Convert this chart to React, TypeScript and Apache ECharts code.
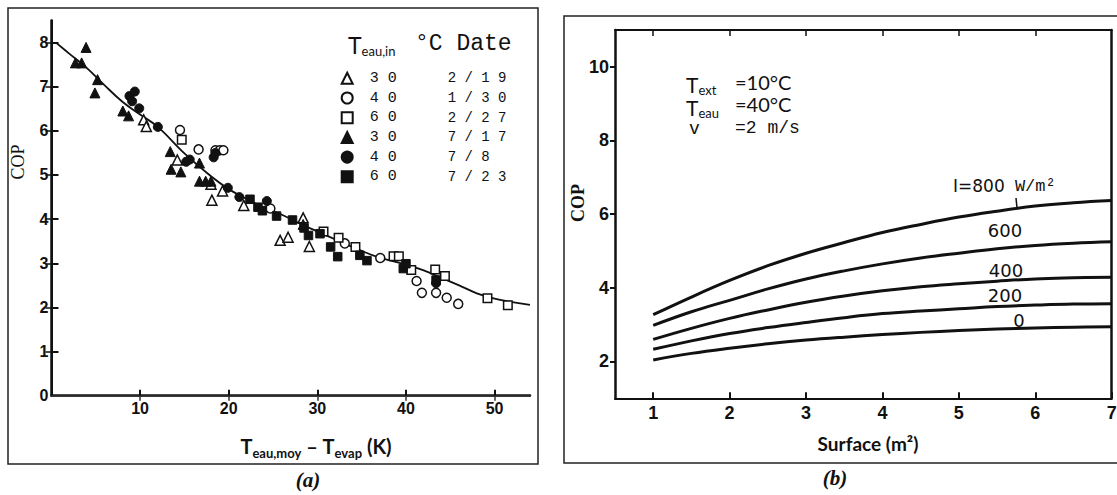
import React, { useEffect, useRef } from 'react';
import * as echarts from 'echarts';

// ---------- Panel (a) data ----------
const legendTemps = ['30', '40', '60', '30', '40', '60'];
const legendDates = ['2/19', '1/30', '2/27', '7/17', '7/8', '7/23'];
const legendSymbols = ['triangle', 'circle', 'rect', 'triangle', 'circle', 'rect'];
const legendFilled = [false, false, false, true, true, true];

const openTri30 = [[10.4, 6.25], [10.7, 6.1], [14.2, 5.34], [18.0, 4.79], [18.1, 4.43], [19.3, 4.64], [21.7, 4.31], [25.8, 3.52], [26.7, 3.59], [28.4, 4.03], [29.1, 3.38]];
const openCircle40 = [[14.5, 6.02], [16.6, 5.58], [18.5, 5.56], [19.0, 5.56], [19.4, 5.56], [24.7, 4.24], [33.1, 3.45], [37.1, 3.12], [41.2, 2.6], [41.8, 2.33], [43.4, 2.33], [44.6, 2.22], [45.9, 2.08]];
const openSquare60 = [[14.7, 5.8], [30.7, 3.72], [32.4, 3.58], [34.3, 3.37], [38.6, 3.16], [39.2, 3.16], [40.6, 2.85], [43.3, 2.86], [44.4, 2.71], [49.2, 2.21], [51.5, 2.05]];
const filledTri30 = [[2.7, 7.54], [3.4, 7.54], [3.9, 7.89], [5.2, 7.16], [4.9, 6.86], [8.05, 6.45], [8.7, 6.34], [13.4, 5.53], [13.5, 5.13], [14.6, 5.07], [16.7, 5.27], [16.7, 4.86], [17.4, 4.86], [18.0, 4.86], [28.4, 3.88]];
const filledCircle40 = [[8.8, 6.79], [9.4, 6.89], [9.1, 6.67], [9.9, 6.51], [12.0, 6.09], [15.2, 5.3], [15.6, 5.35], [18.3, 5.4], [18.5, 5.5], [19.9, 4.71], [21.2, 4.5], [24.3, 4.41], [43.4, 2.55]];
const filledSquare60 = [[22.4, 4.45], [23.3, 4.27], [23.8, 4.19], [25.4, 4.07], [27.2, 3.98], [28.5, 3.8], [29.0, 3.63], [30.3, 3.67], [31.5, 3.37], [32.3, 3.15], [34.8, 3.18], [35.6, 3.06], [39.7, 2.88], [40.0, 2.99], [43.4, 2.62]];
const scatterSets = [openTri30, openCircle40, openSquare60, filledTri30, filledCircle40, filledSquare60];

const fitX = [0.5, 2, 4, 6, 8, 10, 12, 15, 18, 20, 22, 24, 26, 28, 30, 32.5, 35, 37, 40, 42, 44, 46, 48, 50, 52, 54];
const fitY = [8.0, 7.75, 7.42, 7.03, 6.66, 6.37, 6.09, 5.49, 4.97, 4.68, 4.46, 4.26, 4.1, 3.9, 3.72, 3.5, 3.28, 3.13, 2.97, 2.84, 2.67, 2.5, 2.32, 2.2, 2.12, 2.06];

const aXTicks = [10, 20, 30, 40, 50];
const aYLabels = [0, 1, 2, 3, 4, 5, 6, 7, 8];
const aYTicks = [1, 2, 3, 4, 5, 6, 7, 8];

// ---------- Panel (b) data ----------
const surface = [1, 1.5, 2, 2.5, 3, 3.5, 4, 4.5, 5, 5.5, 6, 6.5, 7];
const irradiance = [800, 600, 400, 200, 0];
const cop800 = [3.27, 3.75, 4.2, 4.6, 4.94, 5.23, 5.5, 5.72, 5.92, 6.08, 6.22, 6.31, 6.37];
const cop600 = [2.98, 3.35, 3.66, 3.97, 4.24, 4.46, 4.65, 4.81, 4.94, 5.06, 5.15, 5.21, 5.25];
const cop400 = [2.6, 2.9, 3.17, 3.4, 3.61, 3.78, 3.92, 4.03, 4.11, 4.18, 4.24, 4.27, 4.29];
const cop200 = [2.33, 2.56, 2.76, 2.92, 3.06, 3.19, 3.3, 3.37, 3.43, 3.49, 3.53, 3.56, 3.57];
const cop0 = [2.04, 2.22, 2.36, 2.48, 2.58, 2.66, 2.73, 2.79, 2.84, 2.88, 2.91, 2.93, 2.94];
const copSets = [cop800, cop600, cop400, cop200, cop0];
const bXTicks = [1, 2, 3, 4, 5, 6, 7];
const bXTopTicks = [1, 2, 3, 4, 5, 6];
const bYTicks = [2, 4, 6, 8, 10];

const INK = '#111';
const spaced = (s: string) => s.split('').join(' ');
const seriesNames = legendTemps.map((t, i) => `${t} °C ${legendDates[i]}`);

const tickFont = { color: INK, fontFamily: 'Liberation Sans', fontWeight: 'bold' as const };

const subStyle = (big: number, small: number) => ({
  T: { fontFamily: 'Lato', fontSize: big, lineHeight: big, verticalAlign: 'top', fill: INK },
  s: { fontFamily: 'Lato', fontSize: small, lineHeight: small, padding: [Math.round(big * 0.5), 0, 0, 0], fill: INK },
});

export default function App() {
  const ref = useRef<HTMLDivElement>(null);
  useEffect(() => {
    if (!ref.current) return;
    const chart = echarts.init(ref.current, undefined, { renderer: 'svg' });

    const scatterSeries = scatterSets.map((set, i) => ({
      name: seriesNames[i],
      type: 'scatter',
      xAxisIndex: 0,
      yAxisIndex: 0,
      symbol: legendSymbols[i],
      symbolSize: legendSymbols[i] === 'triangle' ? 10 : legendSymbols[i] === 'circle' ? 9 : 8.5,
      itemStyle: legendFilled[i]
        ? { color: INK, borderColor: INK, borderWidth: 1, opacity: 1 }
        : { color: '#fff', borderColor: INK, borderWidth: 1.5, opacity: 1 },
      emphasis: { disabled: true },
      data: set,
      z: 3,
    }));

    const fitSeries = {
      name: 'fit',
      type: 'line',
      xAxisIndex: 0,
      yAxisIndex: 0,
      smooth: 0.4,
      showSymbol: false,
      symbol: 'none',
      lineStyle: { color: INK, width: 1.8 },
      data: fitX.map((x, i) => [x, fitY[i]]),
      z: 2,
    };

    const bSeries = copSets.map((set, i) => ({
      name: `I=${irradiance[i]}`,
      type: 'line',
      xAxisIndex: 2,
      yAxisIndex: 2,
      smooth: 0.4,
      showSymbol: false,
      symbol: 'none',
      lineStyle: { color: INK, width: 3 },
      data: surface.map((x, j) => [x, set[j]]),
    }));

    const subRich = {
      T: { fontFamily: 'Lato', fontWeight: 'bold', fontSize: 20, lineHeight: 22, verticalAlign: 'top', fill: INK },
      s: { fontFamily: 'Lato', fontWeight: 'bold', fontSize: 13, lineHeight: 14, padding: [12, 0, 0, 0], fill: INK },
      n: { fontFamily: 'Lato', fontWeight: 'bold', fontSize: 20, lineHeight: 22, verticalAlign: 'top', fill: INK },
    };

    const option: any = {
      animation: false,
      backgroundColor: '#fff',
      grid: [
        { left: 51.5, top: 20.5, width: 478.5, height: 375.2, outerBoundsMode: 'none', containLabel: false },
        { left: 615, top: 30, width: 496.7, height: 368.3, outerBoundsMode: 'none', containLabel: false },
      ],
      xAxis: [
        {
          gridIndex: 0, type: 'value', min: 0, max: 54, position: 'bottom',
          axisLine: { show: true, lineStyle: { color: INK, width: 2.5 } },
          axisTick: { show: true, inside: true, length: 6, customValues: aXTicks, lineStyle: { color: INK, width: 2 } },
          axisLabel: { show: true, customValues: aXTicks, margin: 5, fontSize: 16, ...tickFont },
          splitLine: { show: false },
        },
        {
          gridIndex: 0, type: 'value', min: 0, max: 54, position: 'top',
          axisLine: { show: true, lineStyle: { color: '#333', width: 1.5 } },
          axisTick: { show: true, inside: true, length: 5, customValues: aXTicks, lineStyle: { color: '#333', width: 1.5 } },
          axisLabel: { show: false },
          splitLine: { show: false },
        },
        {
          gridIndex: 1, type: 'value', min: 0.5, max: 7, position: 'bottom',
          axisLine: { show: true, lineStyle: { color: INK, width: 2.2 } },
          axisTick: { show: true, inside: true, length: 6, customValues: bXTicks, lineStyle: { color: INK, width: 2 } },
          axisLabel: { show: true, customValues: bXTicks, margin: 6, fontSize: 18, ...tickFont },
          splitLine: { show: false },
        },
        {
          gridIndex: 1, type: 'value', min: 0.5, max: 7, position: 'top',
          axisLine: { show: true, lineStyle: { color: INK, width: 2 } },
          axisTick: { show: true, inside: true, length: 6, customValues: bXTopTicks, lineStyle: { color: INK, width: 1.5 } },
          axisLabel: { show: false },
          splitLine: { show: false },
        },
      ],
      yAxis: [
        {
          gridIndex: 0, type: 'value', min: 0, max: 8.5, position: 'left',
          axisLine: { show: true, lineStyle: { color: INK, width: 2.5 } },
          axisTick: { show: true, inside: true, length: 7, customValues: aYTicks, lineStyle: { color: INK, width: 2 } },
          axisLabel: { show: true, customValues: aYLabels, margin: 3, fontSize: 16, ...tickFont },
          splitLine: { show: false },
        },
        {
          gridIndex: 0, type: 'value', min: 0, max: 8.5, position: 'right',
          axisLine: { show: true, lineStyle: { color: INK, width: 2 } },
          axisTick: { show: true, inside: true, length: 6, customValues: aYTicks, lineStyle: { color: INK, width: 1.5 } },
          axisLabel: { show: false },
          splitLine: { show: false },
        },
        {
          gridIndex: 1, type: 'value', min: 1, max: 11, position: 'left',
          axisLine: { show: true, lineStyle: { color: INK, width: 2.5 } },
          axisTick: { show: true, inside: false, length: 5, customValues: bYTicks, lineStyle: { color: INK, width: 2 } },
          axisLabel: { show: true, customValues: bYTicks, margin: 6, fontSize: 18, ...tickFont },
          splitLine: { show: false },
        },
        {
          gridIndex: 1, type: 'value', min: 1, max: 11, position: 'right',
          axisLine: { show: true, lineStyle: { color: INK, width: 2.5 } },
          axisTick: { show: false },
          axisLabel: { show: false },
          splitLine: { show: false },
        },
      ],
      legend: {
        show: true,
        orient: 'vertical',
        left: 335.7,
        top: 64.3,
        itemWidth: 11,
        itemHeight: 11,
        itemGap: 1.7,
        selectedMode: false,
        data: seriesNames,
        formatter: (name: string) => {
          const i = seriesNames.indexOf(name);
          return `{t|${spaced(legendTemps[i])}}{d|${spaced(legendDates[i])}}`;
        },
        textStyle: {
          color: INK,
          fontFamily: 'Liberation Mono',
          fontSize: 15,
          lineHeight: 18,
          rich: {
            t: { width: 78, padding: [0, 0, 0, 12], fontFamily: 'Liberation Mono', fontSize: 15, color: INK },
            d: { fontFamily: 'Liberation Mono', fontSize: 14, color: INK },
          },
        },
      },
      series: [fitSeries, ...scatterSeries, ...bSeries],
      graphic: [
        { type: 'rect', shape: { x: 8, y: 8, width: 530, height: 456 }, style: { fill: 'none', stroke: '#222', lineWidth: 1.5 }, silent: true },
        { type: 'rect', shape: { x: 564, y: 16, width: 570, height: 447 }, style: { fill: 'none', stroke: '#222', lineWidth: 1.5 }, silent: true },
        { type: 'text', x: 308, y: 480, style: { text: '(a)', font: 'italic bold 21px "Liberation Serif"', fill: INK, align: 'center', verticalAlign: 'middle' } },
        { type: 'text', x: 835, y: 478, style: { text: '(b)', font: 'italic bold 21px "Liberation Serif"', fill: INK, align: 'center', verticalAlign: 'middle' } },
        { type: 'text', x: 18, y: 162, rotation: Math.PI / 2, style: { text: 'COP', font: '18px "Liberation Serif"', fill: INK, align: 'center', verticalAlign: 'middle' } },
        { type: 'text', x: 578, y: 203, rotation: Math.PI / 2, style: { text: 'COP', font: 'bold 18px "Liberation Serif"', fill: INK, align: 'center', verticalAlign: 'middle' } },
        {
          type: 'text', x: 316, y: 447,
          style: { text: '{T|T}{s|eau,moy}{n| – }{T|T}{s|evap}{n| (K)}', rich: subRich, fill: INK, align: 'center', verticalAlign: 'middle' },
        },
        { type: 'text', x: 868, y: 443, style: { text: 'Surface (m²)', font: 'bold 19px Lato', fill: INK, align: 'center', verticalAlign: 'middle' } },
        {
          type: 'text', x: 348, y: 45,
          style: { text: '{T|T}{s|eau,in}', rich: subStyle(23, 13), fill: INK, align: 'left', verticalAlign: 'middle' },
        },
        { type: 'text', x: 415, y: 44, style: { text: '°C Date', font: '23px "Liberation Mono"', fill: INK, align: 'left', verticalAlign: 'middle' } },
        {
          type: 'text', x: 686, y: 84,
          style: { text: '{T|T}{s|ext}', rich: subStyle(21, 13), fill: INK, align: 'left', verticalAlign: 'middle' },
        },
        {
          type: 'text', x: 686, y: 107,
          style: { text: '{T|T}{s|eau}', rich: subStyle(21, 13), fill: INK, align: 'left', verticalAlign: 'middle' },
        },
        { type: 'text', x: 689, y: 129, style: { text: 'v', font: '18px "Liberation Mono"', fill: INK, align: 'left', verticalAlign: 'middle' } },
        { type: 'text', x: 735, y: 82, style: { text: '=10°C', font: '20px Lato', fill: INK, align: 'left', verticalAlign: 'middle' } },
        { type: 'text', x: 735, y: 104, style: { text: '=40°C', font: '20px Lato', fill: INK, align: 'left', verticalAlign: 'middle' } },
        { type: 'text', x: 735, y: 128, style: { text: '=2 m/s', font: '18px "Liberation Mono"', fill: INK, align: 'left', verticalAlign: 'middle' } },
        {
          type: 'text', x: 953, y: 186,
          style: {
            text: `{a|I=${irradiance[0]}}{b| W/m²}`,
            rich: {
              a: { fontFamily: 'DejaVu Sans', fontSize: 17, fill: INK },
              b: { fontFamily: 'Liberation Mono', fontSize: 17, fill: INK },
            },
            fill: INK, align: 'left', verticalAlign: 'middle',
          },
        },
        { type: 'line', shape: { x1: 1016, y1: 198, x2: 1017, y2: 208 }, style: { stroke: INK, lineWidth: 1.5 } },
        { type: 'text', x: 1005, y: 230, style: { text: String(irradiance[1]), font: '18px "DejaVu Sans"', fill: INK, align: 'center', verticalAlign: 'middle' } },
        { type: 'text', x: 1006, y: 270, style: { text: String(irradiance[2]), font: '18px "DejaVu Sans"', fill: INK, align: 'center', verticalAlign: 'middle' } },
        { type: 'text', x: 1005, y: 295, style: { text: String(irradiance[3]), font: '18px "DejaVu Sans"', fill: INK, align: 'center', verticalAlign: 'middle' } },
        { type: 'text', x: 1019, y: 320, style: { text: String(irradiance[4]), font: '18px "DejaVu Sans"', fill: INK, align: 'center', verticalAlign: 'middle' } },
      ],
    };

    chart.setOption(option);
    return () => chart.dispose();
  }, []);

  return (
    <div
      ref={ref}
      style={{ position: 'fixed', left: 0, top: 0, width: 1117, height: 495, background: '#fff' }}
    />
  );
}
